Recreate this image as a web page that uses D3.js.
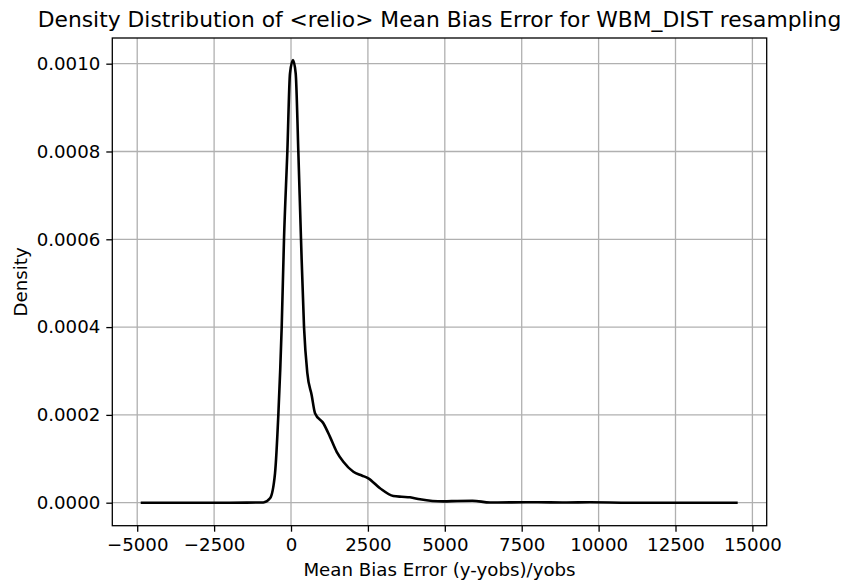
<!DOCTYPE html>
<html>
<head>
<meta charset="utf-8">
<script src="https://cdn.jsdelivr.net/npm/d3@7"></script>
<style>
  body { margin: 0; background: #fff; }
  text { font-family: "DejaVu Sans", sans-serif; fill: #000; }
</style>
</head>
<body>
<div id="wrapper"></div>
<script>
// data
const xValues = [-4886, -2000, -900, -683, -520, -412, -303, -228, -119, -33, 65, 152, 238, 325, 423, 531, 672, 780, 1051, 1268, 1485, 1701, 2027, 2300, 2513, 2894, 3327, 3600, 3869, 4195, 4600, 4954, 5400, 5900, 6470, 7880, 8965, 9720, 11000, 14522];
const densityValues = [0, 0, 0.0000005, 0.00001, 0.000067, 0.0002, 0.0004, 0.0006, 0.0008, 0.000978, 0.001008, 0.000978, 0.0008, 0.0006, 0.0004, 0.000295, 0.000245, 0.000204, 0.000181, 0.00015, 0.000116, 0.0000934, 0.0000706, 0.000062, 0.0000555, 0.000033, 0.0000153, 0.0000135, 0.0000123, 0.0000077, 0.000004, 0.000003, 0.000004, 0.0000045, 0.0000005, 0.000001, 0.0000005, 0.000001, 0, 0];
const xTicks = [-5000, -2500, 0, 2500, 5000, 7500, 10000, 12500, 15000];
const yTicks = [0, 0.0002, 0.0004, 0.0006, 0.0008, 0.0010];

const data = xValues.map((x, i) => ({ x, y: densityValues[i] }));

const dms = {
  width: 846,
  height: 583,
  margins: { top: 38, right: 79.3, bottom: 57.3, left: 112.3 }
};
dms.innerWidth = dms.width - dms.margins.left - dms.margins.right;
dms.innerHeight = dms.height - dms.margins.top - dms.margins.bottom;

const svg = d3.select("#wrapper")
  .append("svg")
    .attr("width", dms.width)
    .attr("height", dms.height);

const inner = svg.append("g")
  .attr("transform", `translate(${dms.margins.left},${dms.margins.top})`);

// scales
const xScale = d3.scaleLinear()
  .domain([-5810, 15465])
  .range([0, dms.innerWidth]);

const yScale = d3.scaleLinear()
  .domain([-0.0000524, 0.0010585])
  .range([dms.innerHeight, 0]);

// grid
inner.append("g")
  .selectAll("line")
  .data(xTicks)
  .join("line")
    .attr("x1", d => xScale(d)).attr("x2", d => xScale(d))
    .attr("y1", 0).attr("y2", dms.innerHeight)
    .attr("stroke", "#b0b0b0").attr("stroke-width", 1.3);

inner.append("g")
  .selectAll("line")
  .data(yTicks)
  .join("line")
    .attr("y1", d => yScale(d)).attr("y2", d => yScale(d))
    .attr("x1", 0).attr("x2", dms.innerWidth)
    .attr("stroke", "#b0b0b0").attr("stroke-width", 1.3);

// density curve
const lineGenerator = d3.line()
  .x(d => xScale(d.x))
  .y(d => yScale(d.y))
  .curve(d3.curveMonotoneX);

inner.append("path")
  .attr("d", lineGenerator(data))
  .attr("fill", "none")
  .attr("stroke", "#000")
  .attr("stroke-width", 2.6)
  .attr("stroke-linejoin", "round");

// axes
const xAxis = inner.append("g")
  .attr("transform", `translate(0,${dms.innerHeight})`)
  .call(d3.axisBottom(xScale).tickValues(xTicks).tickSize(6).tickPadding(6)
    .tickFormat(d => d3.format("d")(d).replace("-", "\u2212")));

const yAxis = inner.append("g")
  .call(d3.axisLeft(yScale).tickValues(yTicks).tickSize(6).tickPadding(6)
    .tickFormat(d3.format(".4f")));

[xAxis, yAxis].forEach(a => {
  a.select(".domain").remove();
  a.selectAll(".tick line").attr("stroke", "#000").attr("stroke-width", 1.3);
  a.selectAll(".tick text")
    .style("font-family", "DejaVu Sans, sans-serif")
    .style("font-size", "18.2px")
    .attr("fill", "#000");
});

// frame
inner.append("rect")
  .attr("width", dms.innerWidth)
  .attr("height", dms.innerHeight)
  .attr("fill", "none")
  .attr("stroke", "#000")
  .attr("stroke-width", 1.3);

// labels
svg.append("text")
  .attr("x", dms.margins.left + dms.innerWidth / 2)
  .attr("y", 26.7)
  .attr("text-anchor", "middle")
  .style("font-size", "21.8px")
  .text("Density Distribution of <relio> Mean Bias Error for WBM_DIST resampling");

svg.append("text")
  .attr("x", dms.margins.left + dms.innerWidth / 2)
  .attr("y", 576)
  .attr("text-anchor", "middle")
  .style("font-size", "18.2px")
  .text("Mean Bias Error (y-yobs)/yobs");

svg.append("text")
  .attr("transform", `translate(26.5,${dms.margins.top + dms.innerHeight / 2}) rotate(-90)`)
  .attr("text-anchor", "middle")
  .style("font-size", "18.2px")
  .text("Density");
</script>
</body>
</html>
